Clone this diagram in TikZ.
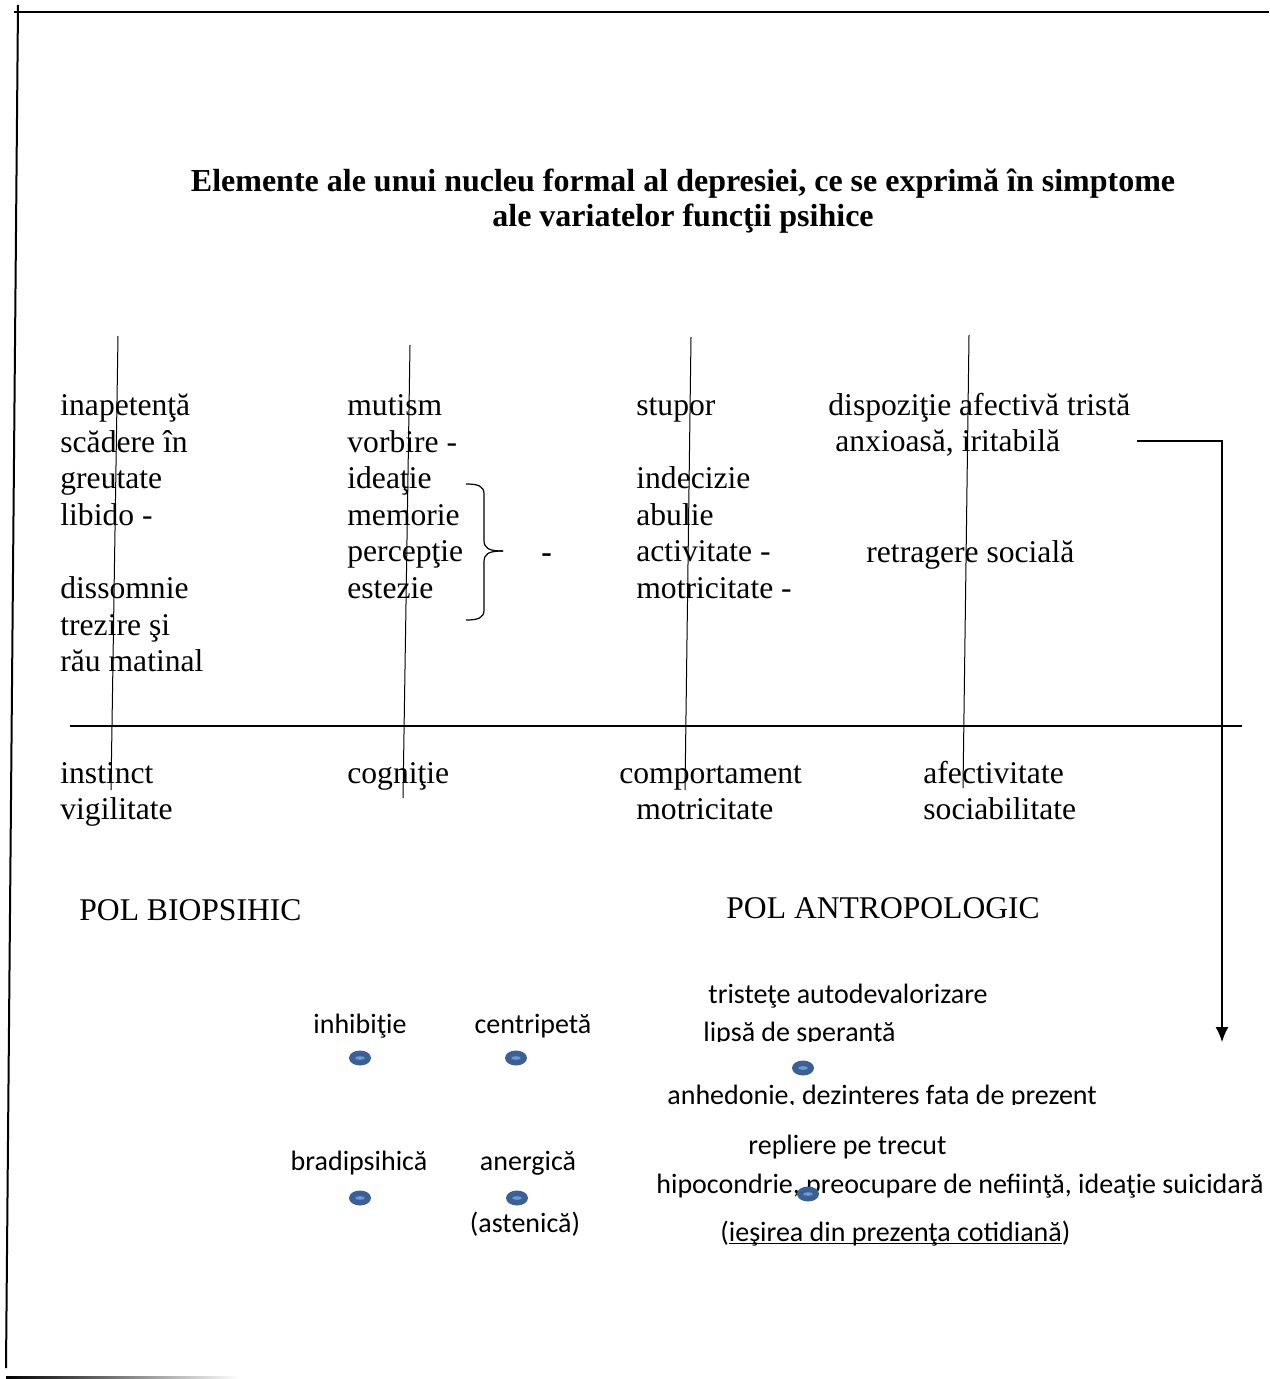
\documentclass[tikz,border=0pt]{standalone}
\usepackage{fontspec}
\setmainfont{Liberation Serif}
\newfontfamily\calfont{Carlito}
\usetikzlibrary{arrows.meta}
\usetikzlibrary{shapes.geometric}
\definecolor{dotblue}{HTML}{3B6096}
\definecolor{dotlight}{HTML}{6E9AD0}

\begin{document}
\begin{tikzpicture}[x=0.5pt,y=-0.5pt] %% tikz
		\tikzstyle{txt}=[anchor=west,inner sep=0pt,text height=12.5pt,text depth=2pt,font=\fontsize{15.8}{18}\selectfont]
		\tikzstyle{titlu}=[inner sep=0pt,text height=12pt,text depth=3pt,font=\bfseries\fontsize{16}{18}\selectfont]
		\tikzstyle{cal}=[inner sep=0pt,text height=11pt,text depth=3pt,font=\calfont\fontsize{14}{16}\selectfont]
		\tikzstyle{punct}=[ellipse,fill=dotblue,inner sep=0pt,minimum width=11pt,minimum height=7.5pt,
			path picture={\fill[dotlight] (path picture bounding box.center) ellipse (2.4pt and 0.9pt);}]
		\useasboundingbox (0,0) rectangle (1269,1379);
		%% frame
		\draw[line width=1pt] (14,12) -- (1269,12);
		\draw[line width=1pt] (18,5) -- (6,1368);
		\shade[left color=black,right color=white] (6,1376) rectangle (240,1379);
		%% title
		\node[titlu] (titlu1) at (683,183) {Elemente ale unui nucleu formal al depresiei, ce se exprimă în simptome};
		\node[titlu] (titlu2) at (683,218) {ale variatelor funcţii psihice};
		%% symptoms
		\foreach \t [count=\i] in {inapetenţă,scădere în,greutate,libido -,,dissomnie,trezire şi,rău matinal}
			\node[txt] (instinct\i) at (60,{405+36.6*(\i-1)}) {\t};
		\foreach \t [count=\i] in {mutism,vorbire -,ideaţie,memorie,percepţie,estezie}
			\node[txt] (cognitie\i) at (347,{405+36.6*(\i-1)}) {\t};
		\foreach \t [count=\i] in {stupor,,indecizie,abulie,activitate -,motricitate -}
			\node[txt] (comport\i) at (636,{405+36.6*(\i-1)}) {\t};
		\node[txt] (disp) at (828,405) {dispoziţie afectivă tristă};
		\node[txt] (anx) at (835,441) {anxioasă, iritabilă};
		\node[txt] (retr) at (866,552) {retragere socială};
		%% brace
		\draw[line width=0.6pt] (466,484) .. controls (478,484) and (484,486) .. (484,494) -- (484,540)
			.. controls (484,548) and (488,551) .. (503,551);
		\draw[line width=0.6pt] (503,551) .. controls (488,551) and (484,554) .. (484,562) -- (484,610)
			.. controls (484,618) and (478,620) .. (466,620);
		\node[txt,font=\bfseries\fontsize{15.8}{18}\selectfont] (minus) at (541,552) {-};
		%% axis and verticals
		\draw[line width=1pt] (70,726) -- (1242,726);
		\draw[line width=0.5pt] (118,336) -- (111,790);
		\draw[line width=0.5pt] (410,345) -- (403,798);
		\draw[line width=0.5pt] (691,337) -- (685,790);
		\draw[line width=0.5pt] (969,335) -- (963,788);
		%% functions
		\node[txt] (instinct) at (60,773) {instinct};
		\node[txt] (vigil) at (60,809) {vigilitate};
		\node[txt] (cognitie) at (347,773) {cogniţie};
		\node[txt] (comport) at (619,773) {comportament};
		\node[txt] (motric) at (636,809) {motricitate};
		\node[txt] (afect) at (923,773) {afectivitate};
		\node[txt] (sociab) at (923,809) {sociabilitate};
		%% poles
		\node[txt] (biopsihic) at (79,910) {POL BIOPSIHIC};
		\node[txt] (antropo) at (726,908) {POL ANTROPOLOGIC};
		%% arrow
		\coordinate (a0) at (1137,441);
		\coordinate (a1) at (1222,441);
		\coordinate (a2) at (1222,1042);
		\draw[line width=0.7pt,-{Latex[length=7.5pt,width=6.5pt]}] (a0) -- (a1) -- (a2);
		%% biopsychic pole
		\node[cal] (inhib) at (360,1025) {inhibiţie};
		\node[cal] (centrip) at (533,1025) {centripetă};
		\node[cal] (bradi) at (359,1162) {bradipsihică};
		\node[cal] (anerg) at (528,1162) {anergică};
		\node[cal] (asten) at (525,1224) {(astenică)};
		%% anthropologic pole
		\node[cal,anchor=west] (trist) at (708,995) {tristeţe autodevalorizare};
		\begin{scope}
			\clip (600,1000) rectangle (1150,1041);
			\node[cal,anchor=west] (lipsa) at (703,1033) {lipsă de speranţă};
		\end{scope}
		\begin{scope}
			\clip (600,1075) rectangle (1150,1104);
			\node[cal,anchor=west] (anhed) at (667,1096) {anhedonie, dezinteres fata de prezent};
		\end{scope}
		\node[cal,anchor=west] (repl) at (748,1146) {repliere pe trecut};
		\node[cal,anchor=west] (hipo) at (656,1185) {hipocondrie, preocupare de nefiinţă, ideaţie suicidară};
		\node[cal,anchor=west] (iesire) at (720,1233) {(\underline{\smash{ieşirea din prezenţa cotidiană}})};
		%% dots
		\node[punct] (p1) at (360,1058) {};
		\node[punct] (p2) at (516,1058) {};
		\node[punct] (p3) at (360,1198) {};
		\node[punct] (p4) at (517,1198) {};
		\node[punct] (p5) at (803,1068) {};
		\node[punct] (p6) at (808,1194) {};
	\end{tikzpicture}
\end{document}
